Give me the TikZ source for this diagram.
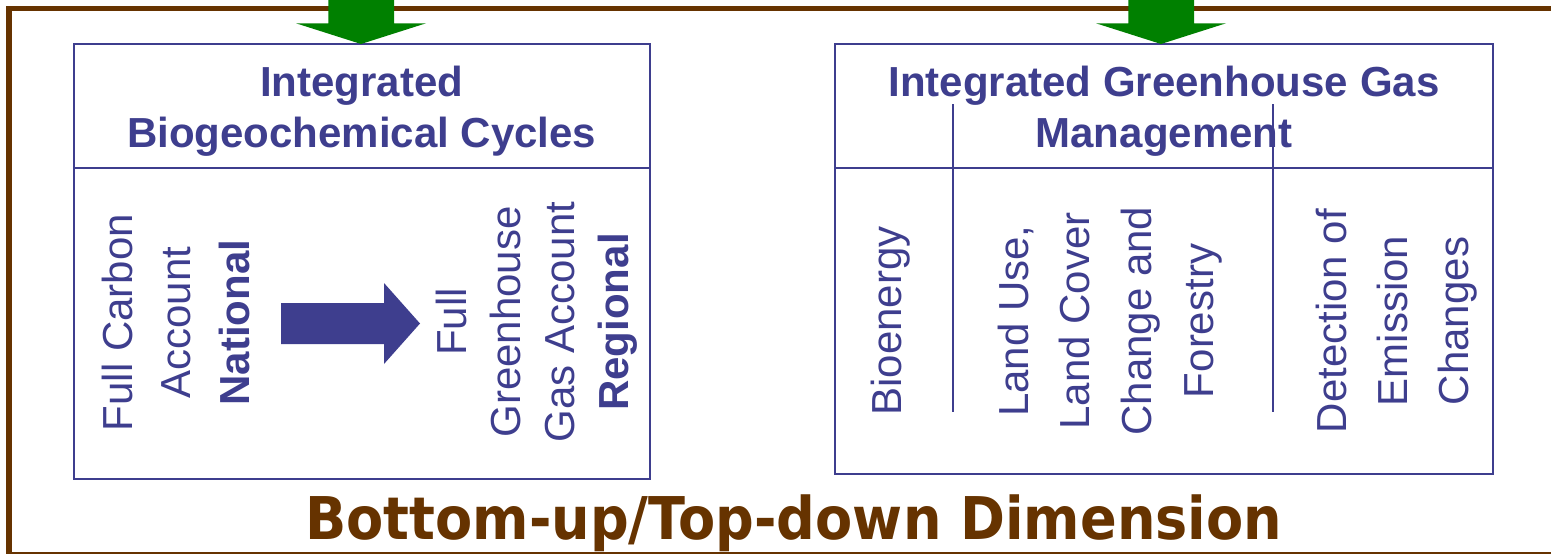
\documentclass[tikz,border=0pt]{standalone}
\usepackage{fontspec}
\setmainfont{Liberation Sans}
\newfontfamily\comicfont{DejaVu Sans}
\usepackage{graphicx}
\definecolor{brn}{RGB}{102,51,0}
\definecolor{bblue}{RGB}{62,62,142}
\definecolor{grn}{RGB}{0,128,0}
\tikzset{
  frameline/.style={draw=brn, line width=5.5pt},
  boxline/.style={draw=bblue, line width=2pt},
  hdtext/.style={text=bblue, font=\fontsize{42pt}{50pt}\selectfont\bfseries, inner sep=0pt, anchor=base},
  rottext/.style={text=bblue, rotate=90, inner sep=0pt, anchor=center},
  greenarrow/.style={fill=grn},
  bluearrow/.style={fill=bblue},
  dimtext/.style={text=brn, inner sep=0pt, anchor=north west}
}
\newcommand\rotlines[2]{{\fontsize{42pt}{#1}\selectfont\begin{tabular}{@{}c@{}}#2\end{tabular}}}
\begin{document}
\begin{tikzpicture}[x=1pt,y=-1pt]
\useasboundingbox (0,0) rectangle (1551,554);
\fill[white] (0,0) rectangle (1551,554);
\clip (0,0) rectangle (1551,554);
% outer frame
\draw[frameline] (9.2,8.3) rectangle (1600,554.8);
% boxes
\draw[boxline] (73.5,44) rectangle (650,479);
\draw[boxline] (73.5,167.5) -- (650,167.5);
\draw[boxline] (835,44) rectangle (1493,474);
\draw[boxline] (835,167.5) -- (1493,167.5);
\draw[boxline] (953,104) -- (953,412);
\draw[boxline] (1273,104) -- (1273,412);
% green arrows
\fill[greenarrow] (328.3,-5) -- (394,-5) -- (394,23.3) -- (426,23.3) -- (361,44) -- (296,23.3) -- (328.3,23.3) -- cycle;
\fill[greenarrow] (1128.3,-5) -- (1194,-5) -- (1194,23.3) -- (1226,23.3) -- (1161,44) -- (1096,23.3) -- (1128.3,23.3) -- cycle;
% headers
\node[hdtext] (lh1) at (361.8,96) {Integrated};
\node[hdtext] (lh2) at (361.8,147) {Biogeochemical Cycles};
\node[hdtext] (rh1) at (1164,96) {Integrated Greenhouse Gas};
\node[hdtext] (rh2) at (1164,147) {Management};
% rotated texts
\node[rottext] (fca) at (178.8,322.5) {\rotlines{58.5pt}{Full Carbon\\Account\\\textbf{National}}};
\node[rottext] (fgga) at (536.9,322) {\rotlines{54pt}{Full\\Greenhouse\\Gas Account\\\textbf{Regional}}};
\node[rottext] (bio) at (889.4,321) {\rotlines{61.5pt}{Bioenergy}};
\node[rottext] (lu) at (1108.2,321) {\rotlines{61.7pt}{Land Use,\\Land Cover\\Change and\\Forestry}};
\node[rottext] (det) at (1394.8,321) {\rotlines{61pt}{Detection of\\Emission\\Changes}};
% blue block arrow
\fill[bluearrow] (281,303) -- (384,303) -- (384,283) -- (420,323.5) -- (384,364) -- (384,344) -- (281,344) -- cycle;
% bottom title
\node[dimtext] (dim) at (305,495) {\resizebox*{977pt}{57pt}{\comicfont\bfseries Bottom-up/Top-down Dimension}};
\end{tikzpicture}
\end{document}
